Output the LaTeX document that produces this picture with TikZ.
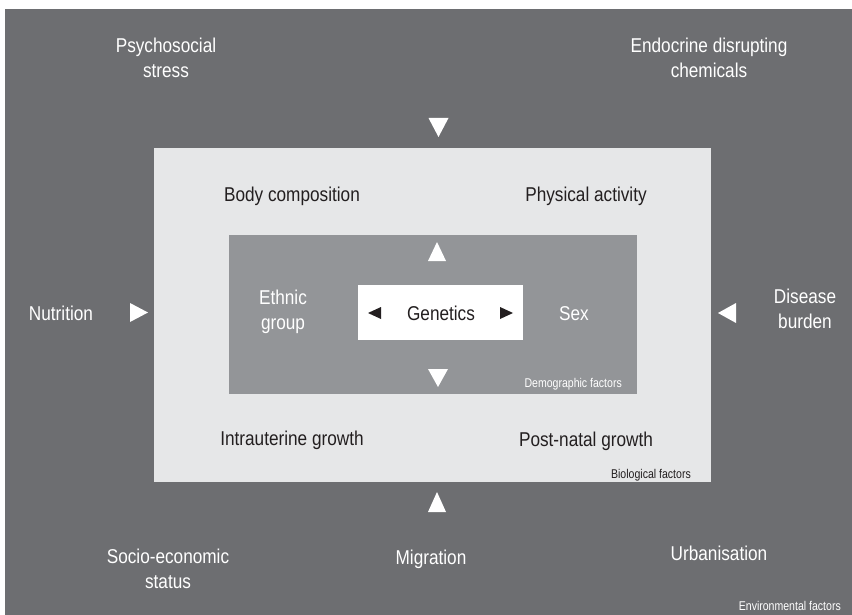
\documentclass[tikz,border=0pt]{standalone}
\usepackage{fontspec}
\setmainfont{Liberation Sans}[FakeStretch=0.86]
\newfontfamily\smallfnt{Liberation Sans}[FakeStretch=0.83]
\definecolor{envgrey}{HTML}{6D6E71}
\definecolor{biogrey}{HTML}{E6E7E8}
\definecolor{demogrey}{HTML}{939598}
\definecolor{ink}{HTML}{231F20}
\tikzset{
  box/.style={inner sep=0pt, draw=none},
  big/.style={font=\fontsize{20}{25}\selectfont, inner sep=0pt, align=center, anchor=base},
  small/.style={font=\smallfnt\fontsize{12.7}{15}\selectfont, inner sep=0pt, anchor=base east},
  tri/.style={fill=white},
  btri/.style={fill=ink}
}
\begin{document}
\begin{tikzpicture}[x=1pt,y=-1pt]
\useasboundingbox (0,0) rectangle (852,615);
% boxes
\node[box, fill=envgrey, minimum width=847pt, minimum height=606pt] (env) at (428.5,312) {};
\node[box, fill=biogrey, minimum width=557pt, minimum height=334pt] (bio) at (432.5,315) {};
\node[box, fill=demogrey, minimum width=408pt, minimum height=159pt] (demo) at (433,314.5) {};
\node[box, fill=white, minimum width=165pt, minimum height=55pt] (gen) at (440.5,312.5) {};
% environmental texts (multi-line: y = baseline of last line)
\node[big, text=white] (psy) at (166,77.7) {Psychosocial\\stress};
\node[big, text=white] (endo) at (709,78) {Endocrine disrupting\\chemicals};
\node[big, text=white] (nut) at (61,320) {Nutrition};
\node[big, text=white] (dis) at (805,328.3) {Disease\\burden};
\node[big, text=white] (soc) at (168,588) {Socio-economic\\status};
\node[big, text=white] (mig) at (431,564) {Migration};
\node[big, text=white] (urb) at (719,560) {Urbanisation};
\node[small, text=white] (envlab) at (841,610) {Environmental factors};
% biological texts
\node[big, text=ink] (body) at (292,202) {Body composition};
\node[big, text=ink] (phys) at (586,202) {Physical activity};
\node[big, text=ink] (intra) at (292,445) {Intrauterine growth};
\node[big, text=ink] (post) at (586,446) {Post-natal growth};
\node[small, text=ink] (biolab) at (691,478) {Biological factors};
% demographic texts
\node[big, text=white] (eth) at (283,329) {Ethnic\\group};
\node[big, text=white] (sex) at (574,320) {Sex};
\node[small, text=white] (demolab) at (622,387) {Demographic factors};
% genetics
\node[big, text=ink] (genlab) at (441,320) {Genetics};
% triangles
\fill[tri] (428.5,118) -- (448.5,118) -- (438.5,137) -- cycle;
\fill[tri] (428,261) -- (446,261) -- (437,242) -- cycle;
\fill[tri] (428,369) -- (448,369) -- (438,387) -- cycle;
\fill[tri] (428,512) -- (446,512) -- (437,492) -- cycle;
\fill[tri] (130,303) -- (130,322) -- (148,312.5) -- cycle;
\fill[tri] (736,303) -- (736,323) -- (718,313) -- cycle;
\fill[btri] (381,307) -- (381,319) -- (368,313) -- cycle;
\fill[btri] (500,307) -- (500,319) -- (513,313) -- cycle;
\end{tikzpicture}
\end{document}
